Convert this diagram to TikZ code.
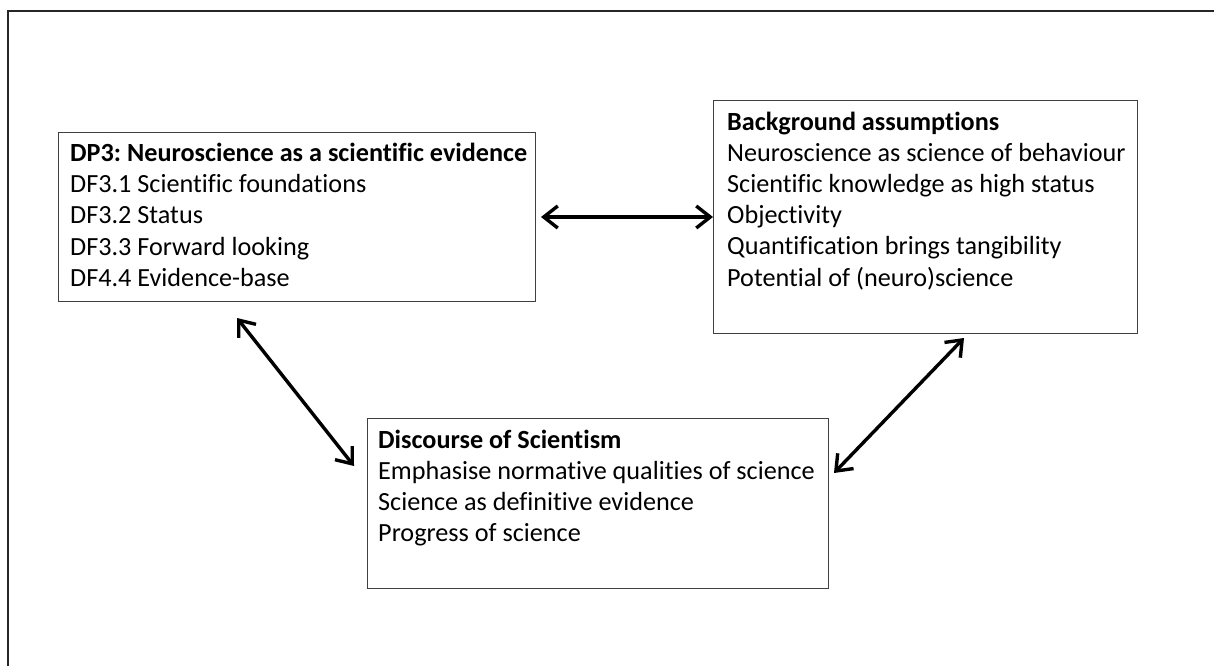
\documentclass[tikz,border=0pt]{standalone}
\usepackage{fontspec}
\setmainfont{Carlito}[Ligatures=NoCommon]
\usetikzlibrary{arrows.meta}
\frenchspacing

\tikzset{
  panel/.style={draw=black!75, line width=1pt, rectangle, inner sep=0pt, anchor=north west},
  paneltext/.style={anchor=base west, inner sep=0pt, font=\fontsize{26.2}{31.2}\selectfont},
  link/.style={line width=3.4pt, line cap=round,
    {Straight Barb[length=14pt,width=22pt,line width=3.4pt]}-{Straight Barb[length=14pt,width=22pt,line width=3.4pt]}},
}

\begin{document}
\begin{tikzpicture}[x=1pt, y=-1pt]
  \useasboundingbox (0,0) rectangle (1214,666);

  % outer frame (open at right and bottom)
  \draw[line width=2pt, black!85] (7.5,666) -- (7.5,11.5) -- (1214,11.5);

  % boxes
  \node[panel, minimum width=477pt, minimum height=169pt] (dp) at (58,132) {};
  \node[panel, minimum width=424pt, minimum height=233pt] (bg) at (713,100) {};
  \node[panel, minimum width=461pt, minimum height=170pt] (ds) at (367,418) {};

  % box contents
  \node[paneltext] (dptext) at (70,161.5) {\begin{tabular}[t]{@{}l@{}}
    \textbf{DP3: Neuroscience as a scientific evidence}\\
    DF3.1 Scientific foundations\\
    DF3.2 Status\\
    DF3.3 Forward looking\\
    DF4.4 Evidence-base
  \end{tabular}};
  \node[paneltext] (bgtext) at (727,130) {\begin{tabular}[t]{@{}l@{}}
    \textbf{Background assumptions}\\
    Neuroscience as science of behaviour\\
    Scientific knowledge as high status\\
    Objectivity\\
    Quantification brings tangibility\\
    Potential of (neuro)science
  \end{tabular}};
  \node[paneltext] (dstext) at (378,448) {\begin{tabular}[t]{@{}l@{}}
    \textbf{Discourse of Scientism}\\
    Emphasise normative qualities of science\\
    Science as definitive evidence\\
    Progress of science
  \end{tabular}};

  % arrow ends next to the boxes
  \coordinate (dpLow) at (237,318);
  \coordinate (dsLeft) at (354,466);
  \coordinate (bgLow) at (964,338);
  \coordinate (dsRight) at (834,473);

  % connectors
  \draw[link, shorten <=5pt] (dp.east) -- (bg.west);
  \draw[link] (dpLow) -- (dsLeft);
  \draw[link] (bgLow) -- (dsRight);
\end{tikzpicture}
\end{document}
